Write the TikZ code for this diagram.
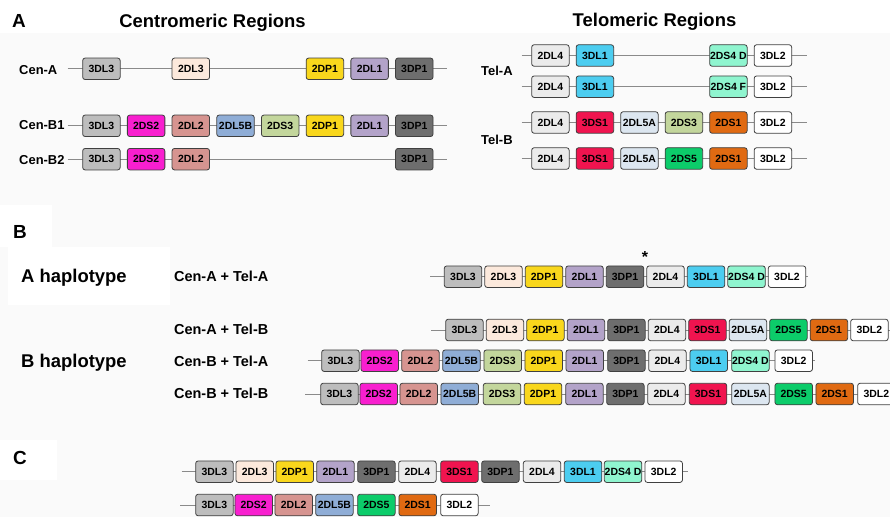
\documentclass[tikz,border=0pt]{standalone}
\usepackage{fontspec}
\setmainfont{Liberation Sans}
\definecolor{c3DL3}{HTML}{BDBDBD}
\definecolor{c2DL3}{HTML}{FCE9DC}
\definecolor{c2DP1}{HTML}{F9D71C}
\definecolor{c2DL1}{HTML}{B3A3C9}
\definecolor{c3DP1}{HTML}{6E6E6E}
\definecolor{c2DS2}{HTML}{F81FCF}
\definecolor{c2DL2}{HTML}{D69490}
\definecolor{c2DL5B}{HTML}{8FADD6}
\definecolor{c2DS3}{HTML}{C3D69C}
\definecolor{c2DL4}{HTML}{EBEBEB}
\definecolor{c3DL1}{HTML}{4CCDF0}
\definecolor{c2DS4}{HTML}{8FF5CF}
\definecolor{c3DL2}{HTML}{FFFFFF}
\definecolor{c3DS1}{HTML}{F0144F}
\definecolor{c2DL5A}{HTML}{DCE6F0}
\definecolor{c2DS1}{HTML}{E06A12}
\definecolor{c2DS5}{HTML}{0CCC6A}
\definecolor{boxline}{HTML}{404040}
\definecolor{linegray}{HTML}{8A8A8A}
\definecolor{panel}{HTML}{FAFAFA}
\newcommand\generow[5]{%
  \coordinate (#1-s) at (#3,#2);
  \coordinate (#1-e) at (#4,#2);
  \draw[chrom] (#1-s) -- (#1-e);
  \foreach \x/\g/\t [count=\i] in {#5} {\node[box,fill=c\g] (#1-\i) at (\x,#2) {\t};}%
}
\begin{document}
\begin{tikzpicture}[x=1bp,y=-1bp,
  box/.style={draw=boxline, rounded corners=2.5bp, line width=0.8bp,
    minimum width=37.5bp, minimum height=21.5bp, inner sep=0pt,
    font=\bfseries\fontsize{10.5}{10.5}\selectfont, text height=7.5bp, text depth=0pt},
  chrom/.style={draw=linegray, line width=0.8bp},
  panelletter/.style={anchor=west, inner sep=0pt, font=\bfseries\fontsize{19}{19}\selectfont, text height=13.6bp, text depth=0pt},
  heading/.style={inner sep=0pt, font=\bfseries\fontsize{18.5}{18.5}\selectfont, text height=13.3bp, text depth=0pt},
  haplab/.style={anchor=west, inner sep=0pt, font=\bfseries\fontsize{18.5}{18.5}\selectfont, text height=13.3bp, text depth=0pt},
  combolab/.style={anchor=west, inner sep=0pt, font=\bfseries\fontsize{14.5}{14.5}\selectfont, text height=10.4bp, text depth=0pt},
  rowlab/.style={anchor=west, inner sep=0pt, font=\bfseries\fontsize{13}{13}\selectfont, text height=9.3bp, text depth=0pt}
]
\useasboundingbox (0,0) rectangle (890,517);
% background panels
\fill[panel] (0,0) rectangle (890,517);
\fill[white] (0,0) rectangle (890,33);
\fill[white] (0,205) rectangle (52,247);
\fill[white] (8,247) rectangle (170,305);
\fill[white] (0,440) rectangle (57,480);

% ---------- Panel A ----------
\node[panelletter] (lA) at (12,21) {A};
\node[heading] (hCen) at (212.5,21) {Centromeric Regions};
\node[heading] (hTel) at (654.5,20) {Telomeric Regions};

\node[rowlab] (lCenA) at (19,70) {Cen-A};
\node[rowlab] (lCenB1) at (19,125) {Cen-B1};
\node[rowlab] (lCenB2) at (19,160) {Cen-B2};
\node[rowlab] (lTelA) at (481,71) {Tel-A};
\node[rowlab] (lTelB) at (481,140) {Tel-B};

\generow{cenA}{68.8}{67.7}{446.7}{101.4/3DL3/3DL3, 190.8/2DL3/2DL3, 324.9/2DP1/2DP1, 369.6/2DL1/2DL1, 414.3/3DP1/3DP1}
\generow{cenB1}{125.8}{67.7}{446.7}{101.4/3DL3/3DL3, 146.1/2DS2/2DS2, 190.8/2DL2/2DL2, 235.5/2DL5B/2DL5B, 280.2/2DS3/2DS3, 324.9/2DP1/2DP1, 369.6/2DL1/2DL1, 414.3/3DP1/3DP1}
\generow{cenB2}{159.2}{67.7}{446.7}{101.4/3DL3/3DL3, 146.1/2DS2/2DS2, 190.8/2DL2/2DL2, 414.3/3DP1/3DP1}

\generow{telA1}{55.5}{521.7}{806.7}{550.4/2DL4/2DL4, 594.9/3DL1/3DL1, 728.4/2DS4/2DS4 D, 772.9/3DL2/3DL2}
\generow{telA2}{86.7}{521.7}{806.7}{550.4/2DL4/2DL4, 594.9/3DL1/3DL1, 728.4/2DS4/2DS4 F, 772.9/3DL2/3DL2}
\generow{telB1}{122.5}{521.7}{806.7}{550.4/2DL4/2DL4, 594.9/3DS1/3DS1, 639.4/2DL5A/2DL5A, 683.9/2DS3/2DS3, 728.4/2DS1/2DS1, 772.9/3DL2/3DL2}
\generow{telB2}{158.5}{521.7}{806.7}{550.4/2DL4/2DL4, 594.9/3DS1/3DS1, 639.4/2DL5A/2DL5A, 683.9/2DS5/2DS5, 728.4/2DS1/2DS1, 772.9/3DL2/3DL2}

% ---------- Panel B ----------
\node[panelletter] (lB) at (13,232) {B};
\node[haplab] (hapA) at (21,276) {A haplotype};
\node[haplab] (hapB) at (21,361) {B haplotype};
\node[combolab] (cAA) at (174,276.7) {Cen-A + Tel-A};
\node[combolab] (cAB) at (174,329.3) {Cen-A + Tel-B};
\node[combolab] (cBA) at (174,361.7) {Cen-B + Tel-A};
\node[combolab] (cBB) at (174,393.3) {Cen-B + Tel-B};

\generow{hb1}{276.7}{430}{808}{463/3DL3/3DL3, 503.5/2DL3/2DL3, 544/2DP1/2DP1, 584.5/2DL1/2DL1, 625/3DP1/3DP1, 665.5/2DL4/2DL4, 706/3DL1/3DL1, 746.5/2DS4/2DS4 D, 787/3DL2/3DL2}
\node[inner sep=0pt, font=\bfseries\fontsize{16}{16}\selectfont] (star) at (645,257) {*};
\generow{hb2}{330}{431}{892}{464.4/3DL3/3DL3, 504.9/2DL3/2DL3, 545.4/2DP1/2DP1, 585.9/2DL1/2DL1, 626.4/3DP1/3DP1, 666.9/2DL4/2DL4, 707.4/3DS1/3DS1, 747.9/2DL5A/2DL5A, 788.4/2DS5/2DS5, 828.9/2DS1/2DS1, 869.4/3DL2/3DL2}
\generow{hb3}{360.7}{307.7}{815}{340.4/3DL3/3DL3, 379.7/2DS2/2DS2, 420.4/2DL2/2DL2, 461.4/2DL5B/2DL5B, 502.7/2DS3/2DS3, 543.7/2DP1/2DP1, 584.7/2DL1/2DL1, 626.4/3DP1/3DP1, 667.4/2DL4/2DL4, 708.7/3DL1/3DL1, 750.4/2DS4/2DS4 D, 793.7/3DL2/3DL2}
\generow{hb4}{394}{305}{895}{339.4/3DL3/3DL3, 378.7/2DS2/2DS2, 418.7/2DL2/2DL2, 459.7/2DL5B/2DL5B, 502/2DS3/2DS3, 543/2DP1/2DP1, 584.4/2DL1/2DL1, 625.4/3DP1/3DP1, 666.4/2DL4/2DL4, 708/3DS1/3DS1, 750.4/2DL5A/2DL5A, 793.7/2DS5/2DS5, 834.7/2DS1/2DS1, 876.4/3DL2/3DL2}

% ---------- Panel C ----------
\node[panelletter] (lC) at (13,458) {C};
\generow{hc1}{471.7}{181.7}{688.3}{214.4/3DL3/3DL3, 254.7/2DL3/2DL3, 294.7/2DP1/2DP1, 335.4/2DL1/2DL1, 376.4/3DP1/3DP1, 417.4/2DL4/2DL4, 459.4/3DS1/3DS1, 500.4/3DP1/3DP1, 542/2DL4/2DL4, 583/3DL1/3DL1, 623/2DS4/2DS4 D, 663.7/3DL2/3DL2}
\generow{hc2}{505}{180}{490}{214.4/3DL3/3DL3, 253.7/2DS2/2DS2, 293.7/2DL2/2DL2, 334.4/2DL5B/2DL5B, 376.4/2DS5/2DS5, 417.7/2DS1/2DS1, 459.4/3DL2/3DL2}
\end{tikzpicture}
\end{document}
